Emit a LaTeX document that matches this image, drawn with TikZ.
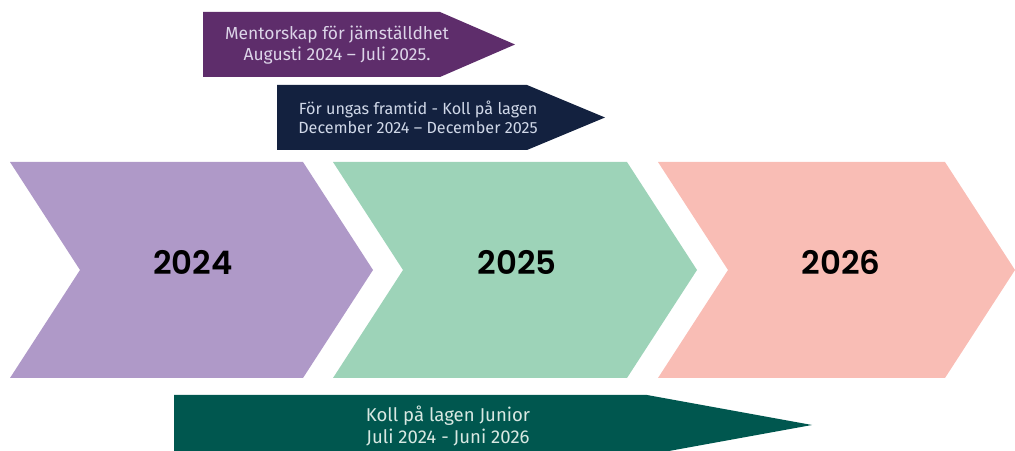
\documentclass[tikz,border=0pt]{standalone}
\usepackage{fontspec}
\setmainfont{Fira Sans}
\newfontfamily\yearfont{Poppins}[BoldFont={Poppins SemiBold}]
\definecolor{chevA}{HTML}{AF99C8}
\definecolor{chevB}{HTML}{9DD3B8}
\definecolor{chevC}{HTML}{F9BDB5}
\definecolor{banA}{HTML}{5E2D6B}
\definecolor{banB}{HTML}{13213F}
\definecolor{banC}{HTML}{00574F}
\definecolor{txtA}{HTML}{DCD4E8}
\definecolor{txtB}{HTML}{D0D8E8}
\definecolor{txtC}{HTML}{D8E8E2}
\tikzset{
  yearlabel/.style={font=\yearfont\fontsize{23}{26}\selectfont\bfseries, text=black},
  banlabel/.style={align=center, inner sep=0pt},
}
\begin{document}
\begin{tikzpicture}[x=0.025cm, y=-0.025cm]
\useasboundingbox (0,0) rectangle (1015,451);
% chevrons
\fill[chevA] (10,162) -- (303,162) -- (373,270) -- (303,378) -- (10,378) -- (80,270) -- cycle;
\fill[chevB] (333,162) -- (627,162) -- (697,270) -- (627,378) -- (333,378) -- (403,270) -- cycle;
\fill[chevC] (658,162) -- (945,162) -- (1015,270) -- (945,378) -- (658,378) -- (728,270) -- cycle;
\node[yearlabel] (y1) at (193,262) {2024};
\node[yearlabel] (y2) at (517,262) {2025};
\node[yearlabel] (y3) at (841,262) {2026};
% banners
\fill[banA] (203,12) -- (440,12) -- (515,44.5) -- (440,77) -- (203,77) -- cycle;
\node[banlabel, text=txtA, font=\fontsize{12.4}{15.5}\selectfont] (b1) at (337,45) {Mentorskap för jämställdhet\\Augusti 2024 – Juli 2025.};
\fill[banB] (277,85) -- (527,85) -- (605,117.5) -- (527,150) -- (277,150) -- cycle;
\node[banlabel, text=txtB, font=\fontsize{11.5}{13.5}\selectfont] (b2) at (418,117) {För ungas framtid - Koll på lagen\\December 2024 – December 2025};
\fill[banC] (174,395) -- (647,395) -- (812,425) -- (647,455) -- (174,455) -- cycle;
\node[banlabel, text=txtC, font=\fontsize{13.2}{15.8}\selectfont] (b3) at (448,426) {Koll på lagen Junior\\Juli 2024 - Juni 2026};
\end{tikzpicture}
\end{document}
